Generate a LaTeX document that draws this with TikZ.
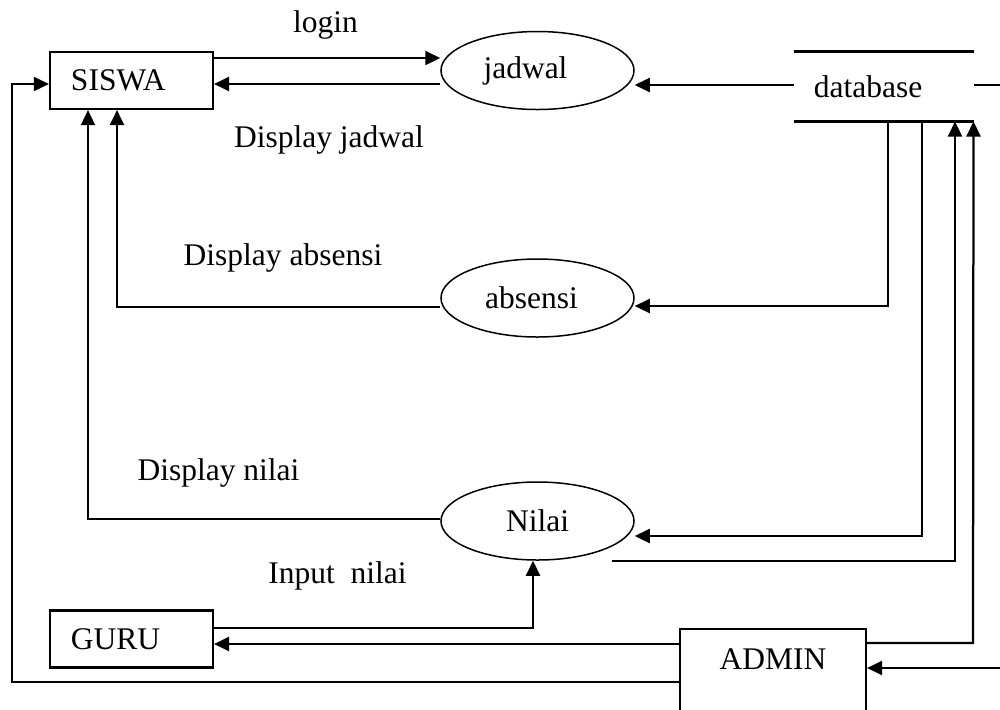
\documentclass[tikz,border=0pt]{standalone}
\usepackage{fontspec}
\setmainfont{Liberation Serif}
\usetikzlibrary{arrows.meta,shapes.geometric}
\begin{document}
\begin{tikzpicture}[x=0.4pt,y=-0.4pt,
  font=\fontsize{12.6}{15}\selectfont,
  thk/.style={line width=0.9pt},
  thn/.style={line width=0.6pt},
  arr/.style={-{Triangle[length=6pt,width=5.6pt]}},
  entity/.style={draw, line width=0.85pt, minimum width=65.2pt, text width=48.4pt,
    inner xsep=8.4pt, align=left, minimum height=22.8pt, inner ysep=0pt},
  proc/.style={draw, ellipse, line width=0.6pt, inner sep=0pt,
    minimum width=77.2pt, minimum height=31.2pt},
  lbl/.style={inner sep=0pt}]
\useasboundingbox (0,0) rectangle (1000,709);
\clip (0,0) rectangle (1000,709);

% entities
\node[entity] (siswa) at (131.5,80.5) {SISWA};
\node[entity] (guru) at (131.5,639) {GURU};
\node[draw, line width=0.85pt, anchor=north, minimum width=74.4pt, inner ysep=0pt,
  text height=16pt, text depth=28.8pt] (admin) at (773,628) {ADMIN};

% processes
\node[proc] (jadwal) at (537.5,70.5) {jadwal\kern9.6pt};
\node[proc] (absensi) at (537.5,298) {absensi\kern4.8pt};
\node[proc] (nilai) at (537.5,521) {Nilai};

% data store
\node[minimum width=71.6pt, minimum height=27.6pt, inner sep=0pt] (db) at (883.5,86.5) {database\kern12.4pt};
\draw[thk] (db.north west) -- (db.north east);
\draw[thk] (db.south west) -- (db.south east);

% labels
\node[lbl] (tlogin) at (325.5,25) {login};
\node[lbl] (tdj) at (329,140) {Display jadwal};
\node[lbl] (tda) at (283,258) {Display absensi};
\node[lbl] (tdn) at (218.5,473) {Display nilai};
\node[lbl] (tin) at (337.5,576) {Input\ \ nilai};

% connectors
\draw[thk,arr] (siswa.east |- 0,58) -- (jadwal.west |- 0,58);
\draw[thk,arr] (jadwal.west |- 0,84) -- (siswa.east |- 0,84);
\draw[thk,arr] (db.west |- 0,85) -- (jadwal.east |- 0,85);
\draw[thk] (db.east |- 0,85) -- (1000,85);
\draw[thk,arr] (888,0 |- db.south) -- (888,306) -- (absensi.east |- 0,306);
\draw[thk,arr] (922,0 |- db.south) -- (922,536) -- (nilai.east |- 0,536);
\draw[thk,arr] (612,561) -- (955,561) -- (955,0 |- db.south);
\draw[thk,arr] (admin.east |- 0,643) -- (973,643) -- (db.south east);
\draw[thk,arr] (1000,668) -- (admin.east |- 0,668);
\draw[thk,arr] (admin.west |- 0,644) -- (guru.east |- 0,644);
\draw[thk,arr] (guru.east |- 0,628) -- (533,628) -- (nilai.south -| 533,0);
\draw[thn,arr] (admin.west |- 0,682) -- (12,682) -- (12,84) -- (siswa.west |- 0,84);
\draw[thk,arr] (absensi.west |- 0,307) -- (117,307) -- (117,0 |- siswa.south);
\draw[thn,arr] (nilai.west |- 0,519) -- (88,519) -- (88,0 |- siswa.south);
\end{tikzpicture}
\end{document}
